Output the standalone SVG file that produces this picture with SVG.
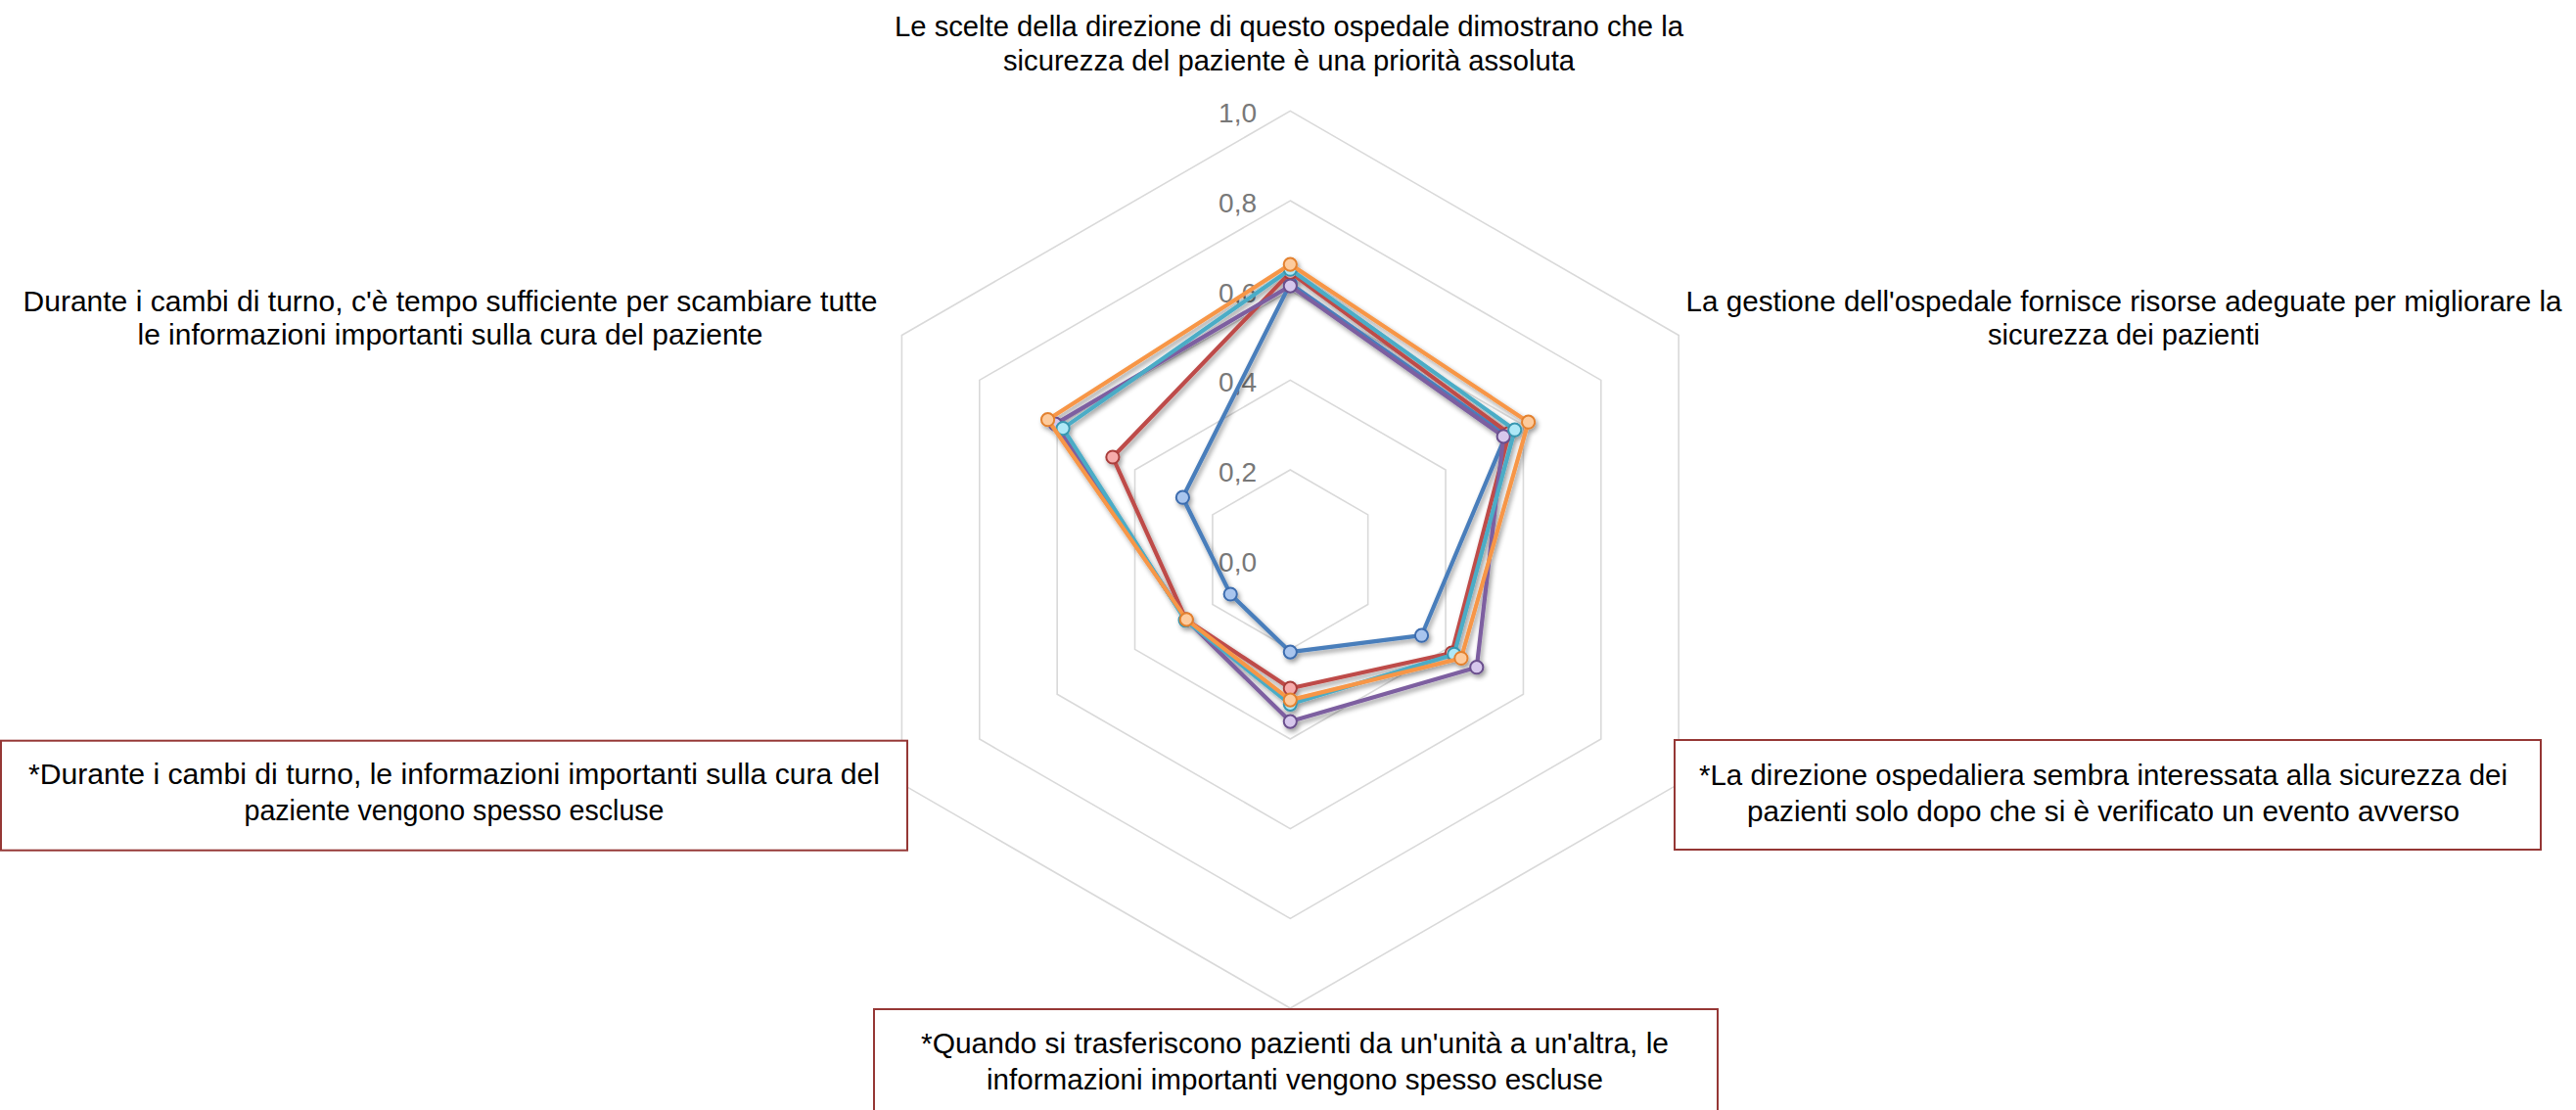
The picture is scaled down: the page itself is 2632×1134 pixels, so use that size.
<svg xmlns="http://www.w3.org/2000/svg" width="2632" height="1134" viewBox="0 0 2632 1134">
<defs>
<style>
.ring{fill:none;stroke:#d9d9d9;stroke-width:1.6}
.tick{font-family:"Liberation Sans",Arial,sans-serif;font-size:28px;fill:#787878;text-anchor:end}
.lbl{font-family:"Liberation Sans",Arial,sans-serif;font-size:29.5px;fill:#000;text-anchor:middle}
.box{fill:#fff;stroke:#953735;stroke-width:2}
.ln{fill:none;stroke-width:4.2;stroke-linejoin:round}
.mk{stroke-width:2}
.s1 .ln{stroke:#4a7ebb}.s1 .mk{fill:#a9c5ee;stroke:#3c6cae}
.s2 .ln{stroke:#be4b48}.s2 .mk{fill:#f6abab;stroke:#a93e3b}
.s3 .ln{stroke:#7d5fa0}.s3 .mk{fill:#d6c7ec;stroke:#6a4f8d}
.s4 .ln{stroke:#4bacc6}.s4 .mk{fill:#aee8f7;stroke:#3796b0}
.s5 .ln{stroke:#f79646}.s5 .mk{fill:#fdcb9d;stroke:#e3812f}
</style>
<filter id="sh" filterUnits="userSpaceOnUse" x="0" y="0" width="2632" height="1134">
<feGaussianBlur in="SourceAlpha" stdDeviation="2.4"/>
<feOffset dx="2" dy="3"/>
<feComponentTransfer><feFuncA type="linear" slope="0.4"/></feComponentTransfer>
<feMerge><feMergeNode/><feMergeNode in="SourceGraphic"/></feMerge>
</filter>
</defs>
<rect width="2632" height="1134" fill="#fff"/>
<g id="grid">
<polygon class="ring" points="1318.3,480.04 1397.68,525.87 1397.68,617.53 1318.3,663.36 1238.92,617.53 1238.92,525.87"/>
<polygon class="ring" points="1318.3,388.38 1477.06,480.04 1477.06,663.36 1318.3,755.02 1159.54,663.36 1159.54,480.04"/>
<polygon class="ring" points="1318.3,296.72 1556.44,434.21 1556.44,709.19 1318.3,846.68 1080.16,709.19 1080.16,434.21"/>
<polygon class="ring" points="1318.3,205.06 1635.81,388.38 1635.81,755.02 1318.3,938.34 1000.79,755.02 1000.79,388.38"/>
<polygon class="ring" points="1318.3,113.4 1715.19,342.55 1715.19,800.85 1318.3,1030 921.41,800.85 921.41,342.55"/>
</g>
<g id="axis-labels">
<text class="tick" x="1284" y="583.6">0,0</text>
<text class="tick" x="1284" y="491.9">0,2</text>
<text class="tick" x="1284" y="400.3">0,4</text>
<text class="tick" x="1284" y="308.6">0,6</text>
<text class="tick" x="1284" y="217">0,8</text>
<text class="tick" x="1284" y="125.3">1,0</text>
</g>
<g id="label-top">
<text class="lbl" x="1317" y="37.3" textLength="806" lengthAdjust="spacingAndGlyphs">Le scelte della direzione di questo ospedale dimostrano che la</text>
<text class="lbl" x="1317" y="71.7" textLength="584" lengthAdjust="spacingAndGlyphs">sicurezza del paziente è una priorità assoluta</text>
</g>
<g id="label-upper-right">
<text class="lbl" x="2170" y="318" textLength="895" lengthAdjust="spacingAndGlyphs">La gestione dell'ospedale fornisce risorse adeguate per migliorare la</text>
<text class="lbl" x="2170" y="352" textLength="278" lengthAdjust="spacingAndGlyphs">sicurezza dei pazienti</text>
</g>
<g id="label-upper-left">
<text class="lbl" x="460" y="318.3" textLength="873" lengthAdjust="spacingAndGlyphs">Durante i cambi di turno, c'è tempo sufficiente per scambiare tutte</text>
<text class="lbl" x="460" y="351.7" textLength="639" lengthAdjust="spacingAndGlyphs">le informazioni importanti sulla cura del paziente</text>
</g>
<g id="label-lower-right">
<rect class="box" x="1711" y="756" width="885" height="112"/>
<text class="lbl" x="2149" y="801.7" textLength="826" lengthAdjust="spacingAndGlyphs">*La direzione ospedaliera sembra interessata alla sicurezza dei</text>
<text class="lbl" x="2149" y="838.8" textLength="728" lengthAdjust="spacingAndGlyphs">pazienti solo dopo che si è verificato un evento avverso</text>
</g>
<g id="label-lower-left">
<rect class="box" x="1" y="756.7" width="926" height="112"/>
<text class="lbl" x="464" y="800.7" textLength="870" lengthAdjust="spacingAndGlyphs">*Durante i cambi di turno, le informazioni importanti sulla cura del</text>
<text class="lbl" x="464" y="838.3" textLength="429" lengthAdjust="spacingAndGlyphs">paziente vengono spesso escluse</text>
</g>
<g id="label-bottom">
<rect class="box" x="893" y="1031" width="862" height="112"/>
<text class="lbl" x="1323" y="1076" textLength="764" lengthAdjust="spacingAndGlyphs">*Quando si trasferiscono pazienti da un'unità a un'altra, le</text>
<text class="lbl" x="1323" y="1113" textLength="630" lengthAdjust="spacingAndGlyphs">informazioni importanti vengono spesso escluse</text>
</g>
<g id="series" filter="url(#sh)">
<g id="series-blue" class="s1">
<polygon class="ln" points="1318.3,289.8 1538.6,444.5 1452.5,649.2 1318.3,666.1 1257.2,607 1208.4,508.2"/>
<circle class="mk" cx="1318.3" cy="289.8" r="6.6"/><circle class="mk" cx="1538.6" cy="444.5" r="6.6"/><circle class="mk" cx="1452.5" cy="649.2" r="6.6"/><circle class="mk" cx="1318.3" cy="666.1" r="6.6"/><circle class="mk" cx="1257.2" cy="607" r="6.6"/><circle class="mk" cx="1208.4" cy="508.2" r="6.6"/>
</g>
<g id="series-red" class="s2">
<polygon class="ln" points="1318.3,278.4 1541.8,442.7 1483.4,667 1318.3,703.2 1211.9,633.1 1136.9,467"/>
<circle class="mk" cx="1318.3" cy="278.4" r="6.6"/><circle class="mk" cx="1541.8" cy="442.7" r="6.6"/><circle class="mk" cx="1483.4" cy="667" r="6.6"/><circle class="mk" cx="1318.3" cy="703.2" r="6.6"/><circle class="mk" cx="1211.9" cy="633.1" r="6.6"/><circle class="mk" cx="1136.9" cy="467" r="6.6"/>
</g>
<g id="series-purple" class="s3">
<polygon class="ln" points="1318.3,292.1 1536.2,445.9 1508.8,681.7 1318.3,737.1 1211.9,633.1 1078.2,433.1"/>
<circle class="mk" cx="1318.3" cy="292.1" r="6.6"/><circle class="mk" cx="1536.2" cy="445.9" r="6.6"/><circle class="mk" cx="1508.8" cy="681.7" r="6.6"/><circle class="mk" cx="1318.3" cy="737.1" r="6.6"/><circle class="mk" cx="1211.9" cy="633.1" r="6.6"/><circle class="mk" cx="1078.2" cy="433.1" r="6.6"/>
</g>
<g id="series-cyan" class="s4">
<polygon class="ln" points="1318.3,275.2 1547.7,439.2 1485.8,668.4 1318.3,719.3 1211.1,633.6 1086.1,437.6"/>
<circle class="mk" cx="1318.3" cy="275.2" r="6.6"/><circle class="mk" cx="1547.7" cy="439.2" r="6.6"/><circle class="mk" cx="1485.8" cy="668.4" r="6.6"/><circle class="mk" cx="1318.3" cy="719.3" r="6.6"/><circle class="mk" cx="1211.1" cy="633.6" r="6.6"/><circle class="mk" cx="1086.1" cy="437.6" r="6.6"/>
</g>
<g id="series-orange" class="s5">
<polygon class="ln" points="1318.3,270.1 1561.6,431.2 1492.9,672.5 1318.3,715.1 1212.3,632.9 1070.6,428.7"/>
<circle class="mk" cx="1318.3" cy="270.1" r="6.6"/><circle class="mk" cx="1561.6" cy="431.2" r="6.6"/><circle class="mk" cx="1492.9" cy="672.5" r="6.6"/><circle class="mk" cx="1318.3" cy="715.1" r="6.6"/><circle class="mk" cx="1212.3" cy="632.9" r="6.6"/><circle class="mk" cx="1070.6" cy="428.7" r="6.6"/>
</g>
</g>
</svg>
